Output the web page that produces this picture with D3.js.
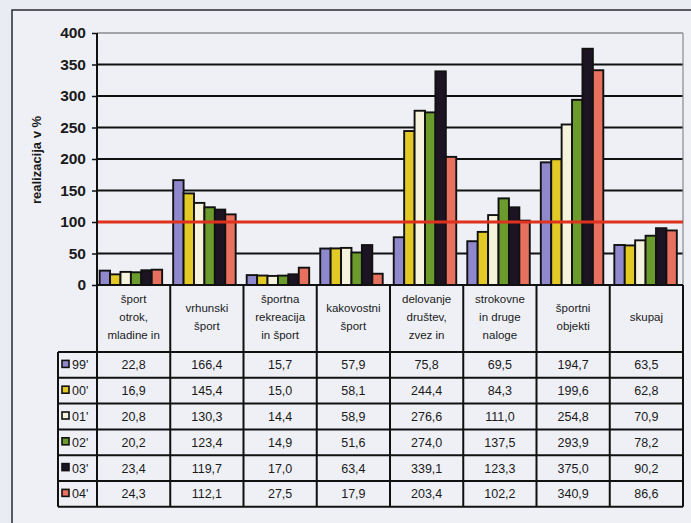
<!DOCTYPE html>
<html>
<head>
<meta charset="utf-8">
<script src="https://cdn.jsdelivr.net/npm/d3@7"></script>
<style>
  body { margin: 0; background: #e9ecf2; }
  svg { display: block; font-family: "Liberation Sans", Arial, sans-serif; }
</style>
</head>
<body>
<script>
// categories (header text, split in lines)
var categories = [
  ["šport", "otrok,", "mladine in"],
  ["vrhunski", "šport"],
  ["športna", "rekreacija", "in šport"],
  ["kakovostni", "šport"],
  ["delovanje", "društev,", "zvez in"],
  ["strokovne", "in druge", "naloge"],
  ["športni", "objekti"],
  ["skupaj"]
];
var years = ["99'", "00'", "01'", "02'", "03'", "04'"];
var colors = ["#8f88cc", "#e2c925", "#f6f3dc", "#6b9b2c", "#1c1422", "#e8705f"];

var v99 = [22.8, 166.4, 15.7, 57.9, 75.8, 69.5, 194.7, 63.5];
var v00 = [16.9, 145.4, 15.0, 58.1, 244.4, 84.3, 199.6, 62.8];
var v01 = [20.8, 130.3, 14.4, 58.9, 276.6, 111.0, 254.8, 70.9];
var v02 = [20.2, 123.4, 14.9, 51.6, 274.0, 137.5, 293.9, 78.2];
var v03 = [23.4, 119.7, 17.0, 63.4, 339.1, 123.3, 375.0, 90.2];
var v04 = [24.3, 112.1, 27.5, 17.9, 203.4, 102.2, 340.9, 86.6];
var series = [v99, v00, v01, v02, v03, v04];

var yTicks = [0, 50, 100, 150, 200, 250, 300, 350, 400];
var target = 100;

var W = 691, H = 523;
var margin = {top: 33, left: 97, right: 8};
var plotBottom = 285;
var width = W - margin.left - margin.right;

var svg = d3.select("body").append("svg")
    .attr("width", W).attr("height", H);

// outer frame
svg.append("rect").attr("x", 12).attr("y", 10).attr("width", 700).attr("height", 600)
    .attr("fill", "#eef0f6").attr("stroke", "#2a2a30").attr("stroke-width", 1.5);

var x0 = d3.scaleBand().domain(d3.range(categories.length))
    .range([margin.left, margin.left + width]).paddingInner(0.15).paddingOuter(0.06).align(0.3);
var x1 = d3.scaleBand().domain(d3.range(years.length)).range([0, x0.bandwidth()]);
var y = d3.scaleLinear().domain([0, 400]).range([plotBottom, margin.top]);
var xr = margin.left + width;
var step = width / categories.length;

// gridlines
svg.append("g").selectAll("line").data(yTicks.filter(function(d) { return d > 0; }))
  .enter().append("line")
    .attr("x1", margin.left).attr("x2", xr)
    .attr("y1", function(d) { return y(d); }).attr("y2", function(d) { return y(d); })
    .attr("stroke", function(d) { return d === 400 ? "#8a8a90" : "#111"; })
    .attr("stroke-width", function(d) { return d === 400 ? 1.5 : 2.2; });

// right border of plot
svg.append("line").attr("x1", xr).attr("x2", xr).attr("y1", y(400)).attr("y2", plotBottom)
    .attr("stroke", "#8a8a90").attr("stroke-width", 1.2);

// bars
var groups = svg.append("g").selectAll("g").data(categories).enter().append("g")
    .attr("transform", function(d, i) { return "translate(" + x0(i) + ",0)"; });
groups.selectAll("rect")
  .data(function(d, i) { return series.map(function(s, k) { return {k: k, v: s[i]}; }); })
  .enter().append("rect")
    .attr("x", function(d) { return x1(d.k); })
    .attr("y", function(d) { return y(d.v); })
    .attr("width", x1.bandwidth())
    .attr("height", function(d) { return y(0) - y(d.v); })
    .attr("fill", function(d) { return colors[d.k]; })
    .attr("stroke", "#111").attr("stroke-width", 1.9);

// red 100% line
svg.append("line").attr("x1", margin.left).attr("x2", xr)
    .attr("y1", y(target)).attr("y2", y(target))
    .attr("stroke", "#e0301e").attr("stroke-width", 3);

// y axis
var yAxis = svg.append("g").attr("transform", "translate(" + margin.left + ",0)")
    .call(d3.axisLeft(y).tickValues(yTicks).tickSize(5).tickPadding(6));
yAxis.select(".domain").remove();
yAxis.selectAll(".tick line").attr("stroke", "#111").attr("stroke-width", 1.5);
yAxis.selectAll("text").attr("font-size", 15.5).attr("font-weight", "bold").attr("fill", "#1a1a1a");

svg.append("text").attr("transform", "translate(41,160) rotate(-90)")
    .attr("text-anchor", "middle").attr("font-size", 13).attr("font-weight", "bold")
    .attr("fill", "#1a1a1a").text("realizacija v %");

// table
var rowTop = 352, rowH = 25.8, legL = 58;
var tableBottom = rowTop + rowH * years.length;
var fmt = function(v) { return d3.format(".1f")(v).replace(".", ","); };

// header text
categories.forEach(function(lines, i) {
  var cx = margin.left + step * (i + 0.5);
  var cy = 317 - (lines.length - 1) * 9;
  var t = svg.append("text").attr("text-anchor", "middle").attr("font-size", 11.5).attr("fill", "#1a1a1a");
  lines.forEach(function(l, j) {
    t.append("tspan").attr("x", cx).attr("y", cy + j * 18 + 4).text(l);
  });
});

// values
series.forEach(function(s, r) {
  var cy = rowTop + rowH * (r + 0.5) + 4.5;
  s.forEach(function(v, i) {
    svg.append("text").attr("x", margin.left + step * (i + 0.5)).attr("y", cy)
      .attr("text-anchor", "middle").attr("font-size", 12.5).attr("fill", "#1a1a1a").text(fmt(v));
  });
  svg.append("rect").attr("x", legL + 4).attr("y", cy - 9).attr("width", 7).attr("height", 7)
    .attr("fill", colors[r]).attr("stroke", "#111").attr("stroke-width", 1.6);
  svg.append("text").attr("x", legL + 14).attr("y", cy).attr("font-size", 12.5)
    .attr("fill", "#1a1a1a").text(years[r]);
});

// table lines
var tl = svg.append("g").attr("stroke", "#111").attr("stroke-width", 2);
d3.range(years.length + 1).forEach(function(r) {
  tl.append("line").attr("x1", legL).attr("x2", xr)
    .attr("y1", rowTop + rowH * r).attr("y2", rowTop + rowH * r);
});
tl.append("line").attr("x1", legL).attr("x2", legL).attr("y1", rowTop).attr("y2", tableBottom);
d3.range(categories.length + 1).forEach(function(i) {
  var xx = margin.left + step * i;
  tl.append("line").attr("x1", xx).attr("x2", xx)
    .attr("y1", i === 0 ? margin.top : plotBottom).attr("y2", tableBottom);
});
tl.append("line").attr("x1", margin.left).attr("x2", xr).attr("y1", plotBottom).attr("y2", plotBottom);
</script>
</body>
</html>
